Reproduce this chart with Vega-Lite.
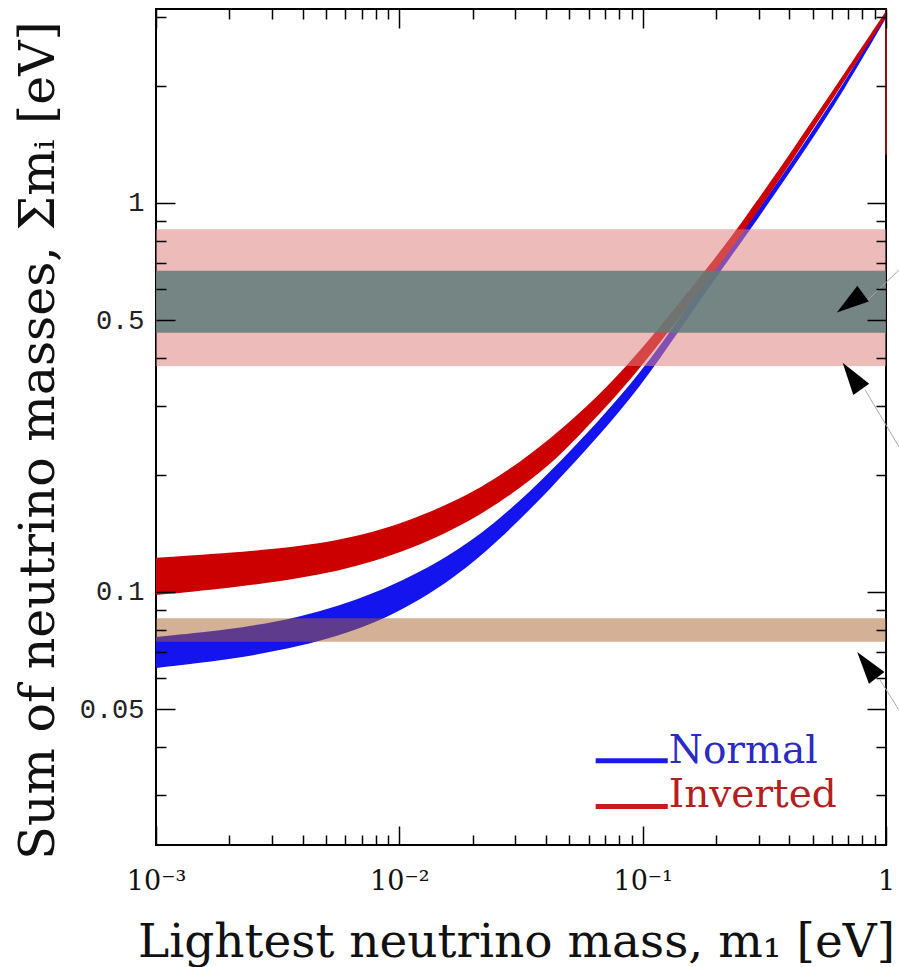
{
  "$schema": "https://vega.github.io/schema/vega-lite/v6.json",
  "width": 730,
  "height": 836,
  "autosize": "none",
  "padding": {"left": 156, "top": 9, "right": 13, "bottom": 122},
  "background": "white",
  "config": {
    "view": {"stroke": "black", "strokeWidth": 2},
    "axis": {"domain": false, "grid": false}
  },
  "datasets": {
    "normal": [
      {"m1": 0.001, "lo": 0.0638, "hi": 0.0766},
      {"m1": 0.002, "lo": 0.0669, "hi": 0.0799},
      {"m1": 0.00388, "lo": 0.0722, "hi": 0.0857},
      {"m1": 0.00789, "lo": 0.0818, "hi": 0.0982},
      {"m1": 0.01606, "lo": 0.1055, "hi": 0.123},
      {"m1": 0.02579, "lo": 0.136, "hi": 0.1532},
      {"m1": 0.04143, "lo": 0.1829, "hi": 0.2022},
      {"m1": 0.06653, "lo": 0.2533, "hi": 0.2768},
      {"m1": 0.09721, "lo": 0.3346, "hi": 0.3634},
      {"m1": 0.142, "lo": 0.4717, "hi": 0.5062},
      {"m1": 0.2016, "lo": 0.6492, "hi": 0.6887},
      {"m1": 0.2654, "lo": 0.8226, "hi": 0.8625},
      {"m1": 0.4427, "lo": 1.305, "hi": 1.368},
      {"m1": 0.6781, "lo": 1.964, "hi": 2.047},
      {"m1": 1, "lo": 2.989, "hi": 3.078}
    ],
    "inverted": [
      {"m1": 0.001, "lo": 0.0982, "hi": 0.1224},
      {"m1": 0.002, "lo": 0.1024, "hi": 0.126},
      {"m1": 0.00388, "lo": 0.108, "hi": 0.1305},
      {"m1": 0.00789, "lo": 0.1187, "hi": 0.141},
      {"m1": 0.01606, "lo": 0.1418, "hi": 0.1674},
      {"m1": 0.02579, "lo": 0.1694, "hi": 0.1975},
      {"m1": 0.04143, "lo": 0.2096, "hi": 0.2459},
      {"m1": 0.06653, "lo": 0.2868, "hi": 0.3209},
      {"m1": 0.0927, "lo": 0.3613, "hi": 0.4018},
      {"m1": 0.1292, "lo": 0.4717, "hi": 0.5153},
      {"m1": 0.1887, "lo": 0.6416, "hi": 0.6927},
      {"m1": 0.2555, "lo": 0.8273, "hi": 0.8883},
      {"m1": 0.4262, "lo": 1.328, "hi": 1.409},
      {"m1": 0.6467, "lo": 1.975, "hi": 2.071},
      {"m1": 1, "lo": 3.007, "hi": 3.116}
    ],
    "bands": [
      {"band": "pink", "x0": 0.001, "x1": 1, "lo": 0.381, "hi": 0.856},
      {"band": "gray", "x0": 0.001, "x1": 1, "lo": 0.464, "hi": 0.67},
      {"band": "tan", "x0": 0.001, "x1": 1, "lo": 0.0745, "hi": 0.0856}
    ],
    "edge": [{"m1": 1, "lo": 1.33, "hi": 3.153}],
    "leaders": [
      {"x0": 0.843, "y0": 0.563, "x1": 1.131, "y1": 0.673},
      {"x0": 0.82, "y0": 0.331, "x1": 1.131, "y1": 0.236},
      {"x0": 0.945, "y0": 0.0594, "x1": 1.131, "y1": 0.0497}
    ],
    "arrows": [
      {"m1": 0.711, "s": 0.553, "ang": 234},
      {"m1": 0.7246, "s": 0.359, "ang": 325},
      {"m1": 0.835, "s": 0.0649, "ang": 323}
    ],
    "legend": [
      {"label": "Normal", "x0": 0.0641, "x1": 0.1268, "ly": 0.0368, "ty": 0.0363},
      {"label": "Inverted", "x0": 0.0641, "x1": 0.1268, "ly": 0.0281, "ty": 0.028}
    ]
  },
  "layer": [
    {
      "data": {"name": "normal"},
      "mark": {"type": "area", "color": "#1414ee", "interpolate": "basis"},
      "encoding": {
        "x": {
          "field": "m1", "type": "quantitative",
          "scale": {"type": "log", "domain": [0.001, 1], "nice": false},
          "axis": {
            "orient": "bottom",
            "values": [0.001, 0.002, 0.003, 0.004, 0.005, 0.006, 0.007, 0.008, 0.009, 0.01, 0.02, 0.03, 0.04, 0.05, 0.06, 0.07, 0.08, 0.09, 0.1, 0.2, 0.3, 0.4, 0.5, 0.6, 0.7, 0.8, 0.9, 1],
            "labelExpr": "datum.value == 0.001 ? '10⁻³' : datum.value == 0.01 ? '10⁻²' : datum.value == 0.1 ? '10⁻¹' : datum.value == 1 ? '1' : ''",
            "tickSize": {"condition": {"test": "indexof([0.001, 0.01, 0.1, 1], datum.value) >= 0", "value": -19}, "value": -10},
            "tickColor": "black", "tickWidth": 1.5,
            "labelFont": "DejaVu Serif", "labelFontSize": 27, "labelColor": "#111",
            "labelPadding": 42, "labelFlush": false, "labelOverlap": false, "labelBound": false,
            "title": "Lightest neutrino mass, m₁ [eV]",
            "titleFont": "DejaVu Serif", "titleFontSize": 47, "titleFontWeight": "normal", "titleColor": "#111",
            "titlePadding": 16, "titleX": 360, "zindex": 1
          }
        },
        "y": {
          "field": "hi", "type": "quantitative",
          "scale": {"type": "log", "domain": [0.02236, 3.153], "nice": false},
          "axis": {
            "orient": "left",
            "values": [0.03, 0.04, 0.05, 0.06, 0.07, 0.08, 0.09, 0.1, 0.2, 0.3, 0.4, 0.5, 0.6, 0.7, 0.8, 0.9, 1, 2, 3],
            "labelExpr": "datum.value == 1 ? '1' : datum.value == 0.5 ? '0.5' : datum.value == 0.1 ? '0.1' : datum.value == 0.05 ? '0.05' : ''",
            "tickSize": {"condition": {"test": "indexof([0.05, 0.1, 0.5, 1], datum.value) >= 0", "value": -19}, "value": -10},
            "tickColor": "black", "tickWidth": 1.5,
            "labelFont": "Liberation Mono", "labelFontSize": 27, "labelColor": "#222",
            "labelPadding": 31, "labelOverlap": false, "labelBound": false, "labelFlush": false,
            "title": "Sum of neutrino masses, Σmᵢ [eV]",
            "titleFont": "DejaVu Serif", "titleFontSize": 49, "titleFontWeight": "normal", "titleColor": "#111",
            "titlePadding": 16, "titleY": 431, "zindex": 1
          }
        },
        "y2": {"field": "lo"}
      }
    },
    {
      "data": {"name": "inverted"},
      "mark": {"type": "area", "color": "#cc0000", "interpolate": "basis"},
      "encoding": {
        "x": {
          "field": "m1", "type": "quantitative",
          "scale": {"type": "log", "domain": [0.001, 1], "nice": false},
          "axis": {
            "orient": "top",
            "values": [0.001, 0.002, 0.003, 0.004, 0.005, 0.006, 0.007, 0.008, 0.009, 0.01, 0.02, 0.03, 0.04, 0.05, 0.06, 0.07, 0.08, 0.09, 0.1, 0.2, 0.3, 0.4, 0.5, 0.6, 0.7, 0.8, 0.9, 1],
            "labels": false, "title": null,
            "tickSize": {"condition": {"test": "indexof([0.001, 0.01, 0.1, 1], datum.value) >= 0", "value": -19}, "value": -10},
            "tickColor": "black", "tickWidth": 1.5, "zindex": 1
          }
        },
        "y": {
          "field": "hi", "type": "quantitative",
          "scale": {"type": "log", "domain": [0.02236, 3.153], "nice": false},
          "axis": {
            "orient": "right",
            "values": [0.03, 0.04, 0.05, 0.06, 0.07, 0.08, 0.09, 0.1, 0.2, 0.3, 0.4, 0.5, 0.6, 0.7, 0.8, 0.9, 1, 2, 3],
            "labels": false, "title": null,
            "tickSize": {"condition": {"test": "indexof([0.05, 0.1, 0.5, 1], datum.value) >= 0", "value": -19}, "value": -10},
            "tickColor": "black", "tickWidth": 1.5, "zindex": 1
          }
        },
        "y2": {"field": "lo"}
      }
    },
    {
      "data": {"name": "bands"},
      "mark": {"type": "rect"},
      "encoding": {
        "x": {"field": "x0", "type": "quantitative", "scale": {"type": "log", "domain": [0.001, 1], "nice": false}, "axis": null},
        "x2": {"field": "x1"},
        "y": {"field": "lo", "type": "quantitative", "scale": {"type": "log", "domain": [0.02236, 3.153], "nice": false}, "axis": null},
        "y2": {"field": "hi"},
        "color": {"field": "band", "type": "nominal", "scale": {"domain": ["pink", "gray", "tan"], "range": ["rgba(223,129,129,0.54)", "rgba(95,123,121,0.85)", "rgba(169,97,45,0.5)"]}, "legend": null}
      }
    },
    {
      "data": {"name": "edge"},
      "mark": {"type": "rule", "color": "#8b1010", "strokeWidth": 2},
      "encoding": {
        "x": {"field": "m1", "type": "quantitative", "scale": {"type": "log", "domain": [0.001, 1], "nice": false}, "axis": null},
        "y": {"field": "lo", "type": "quantitative", "scale": {"type": "log", "domain": [0.02236, 3.153], "nice": false}, "axis": null},
        "y2": {"field": "hi"}
      }
    },
    {
      "data": {"name": "leaders"},
      "mark": {"type": "rule", "color": "#a8a8a8", "strokeWidth": 1},
      "encoding": {
        "x": {"field": "x0", "type": "quantitative", "scale": {"type": "log", "domain": [0.001, 1], "nice": false}, "axis": null},
        "x2": {"field": "x1"},
        "y": {"field": "y0", "type": "quantitative", "scale": {"type": "log", "domain": [0.02236, 3.153], "nice": false}, "axis": null},
        "y2": {"field": "y1"}
      }
    },
    {
      "data": {"name": "arrows"},
      "mark": {"type": "point", "shape": "M0,-1L0.6,1L-0.6,1Z", "filled": true, "color": "black", "opacity": 1, "size": 1050},
      "encoding": {
        "x": {"field": "m1", "type": "quantitative", "scale": {"type": "log", "domain": [0.001, 1], "nice": false}, "axis": null},
        "y": {"field": "s", "type": "quantitative", "scale": {"type": "log", "domain": [0.02236, 3.153], "nice": false}, "axis": null},
        "angle": {"field": "ang", "type": "quantitative", "scale": null}
      }
    },
    {
      "data": {"name": "legend"},
      "mark": {"type": "rule", "strokeWidth": 5},
      "encoding": {
        "x": {"field": "x0", "type": "quantitative", "scale": {"type": "log", "domain": [0.001, 1], "nice": false}, "axis": null},
        "x2": {"field": "x1"},
        "y": {"field": "ly", "type": "quantitative", "scale": {"type": "log", "domain": [0.02236, 3.153], "nice": false}, "axis": null},
        "color": {"condition": {"test": "datum.label == 'Normal'", "value": "#1a1aee"}, "value": "#cc1a1a"}
      }
    },
    {
      "data": {"name": "legend"},
      "mark": {"type": "text", "align": "left", "baseline": "alphabetic", "font": "DejaVu Serif", "fontSize": 39, "dx": 1},
      "encoding": {
        "x": {"field": "x1", "type": "quantitative", "scale": {"type": "log", "domain": [0.001, 1], "nice": false}, "axis": null},
        "y": {"field": "ty", "type": "quantitative", "scale": {"type": "log", "domain": [0.02236, 3.153], "nice": false}, "axis": null},
        "text": {"field": "label"},
        "color": {"condition": {"test": "datum.label == 'Normal'", "value": "#2a2ac4"}, "value": "#b3201e"}
      }
    }
  ],
  "resolve": {"axis": {"x": "independent", "y": "independent"}}
}
